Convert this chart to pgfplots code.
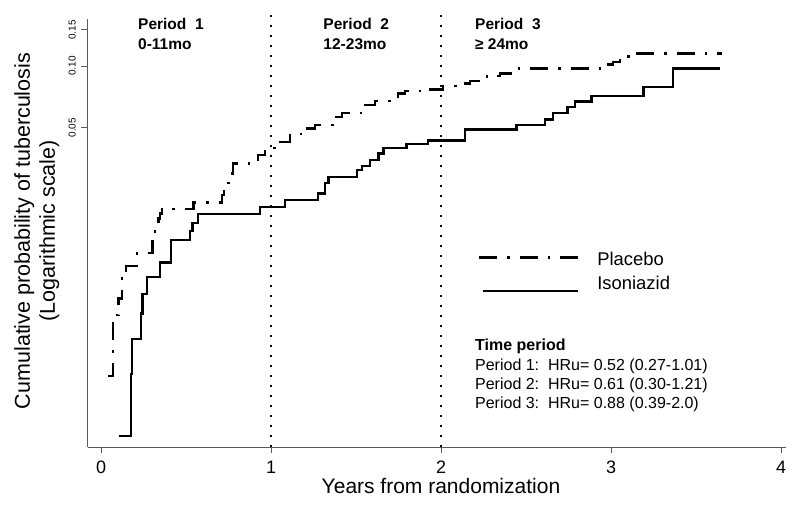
\documentclass[border=0pt]{standalone}
\usepackage{fontspec}
\setmainfont{Liberation Sans}
\usepackage{pgfplots}
\pgfplotsset{compat=1.18}
\definecolor{axisgray}{gray}{0.35}
\begin{document}
\begin{tikzpicture}
\begin{axis}[
  at={(0,0)}, anchor=south west,
  scale only axis, width=698bp, height=428bp,
  xmin=-0.0765, xmax=4.029,
  ymode=log, ymin=0.001383, ymax=0.1696,
  clip=false,
  axis x line*=bottom, axis y line*=left,
  axis line style={axisgray, line width=1bp, -},
  tick align=outside, major tick length=6.5bp,
  every tick/.style={axisgray, line width=1bp},
  /pgf/number format/assume math mode=true,
  xtick={0,1,2,3,4}, xticklabels={0,1,2,3,4},
  ytick={0.05,0.10,0.15}, yticklabels={0.05,0.10,0.15},
  yminorticks=false, xminorticks=false,
  xticklabel style={font=\fontsize{18bp}{20bp}\selectfont, inner sep=0pt, anchor=north},
  xticklabel shift=7bp,
  yticklabel style={font=\fontsize{10bp}{12bp}\selectfont, inner sep=0pt, rotate=90, anchor=south},
  yticklabel shift=5.7bp,
  legend style={draw=none, fill=none, at={(axis description cs:0.5587,0.4549)}, anchor=north west,
    inner sep=0pt, outer sep=0pt, row sep=9bp, font=\fontsize{18.4bp}{22bp}\selectfont,
    nodes={inner sep=0pt}},
  legend cell align=left,
]
\addplot[const plot, black, line width=2.4bp, dash pattern=on 18bp off 10bp on 2.5bp off 10bp,
  legend image code/.code={\draw[black, line width=2.4bp, dash pattern=on 18bp off 10bp on 2.5bp off 10bp] (0bp,2.4bp) -- (99bp,2.4bp); \path (117bp,0bp);}]
  table {
x y
0.043 0.00308
0.072 0.00609
0.102 0.00735
0.122 0.00921
0.147 0.01057
0.212 0.01223
0.302 0.01532
0.318 0.01675
0.337 0.01806
0.347 0.01911
0.357 0.02005
0.543 0.02157
0.710 0.02347
0.724 0.02483
0.749 0.0268
0.769 0.02995
0.778 0.03351
0.924 0.03679
0.965 0.0397
1.029 0.04272
1.112 0.04658
1.188 0.04966
1.259 0.05153
1.376 0.05657
1.416 0.0588
1.541 0.06453
1.612 0.0675
1.747 0.07358
1.788 0.07551
1.916 0.07697
2.012 0.07988
2.122 0.08233
2.171 0.0845
2.269 0.08937
2.347 0.09213
2.445 0.0972
2.965 0.1019
3.012 0.1046
3.053 0.1082
3.102 0.1153
3.653 0.1153
};
\addlegendentry{Placebo}
\addplot[const plot, black, line width=2.4bp,
  legend image code/.code={\draw[black, line width=2.4bp] (4bp,-7.7bp) -- (99bp,-7.7bp); \path (117bp,0bp);}]
  table {
x y
0.106 0.001565
0.176 0.00314
0.184 0.00464
0.234 0.00621
0.245 0.00772
0.269 0.00937
0.347 0.01097
0.410 0.01416
0.524 0.01566
0.539 0.01708
0.572 0.01896
0.935 0.0205
1.082 0.0222
1.278 0.0239
1.318 0.0268
1.337 0.0288
1.504 0.0311
1.534 0.0325
1.582 0.0348
1.631 0.0375
1.661 0.0397
1.798 0.0416
1.925 0.0433
2.141 0.0491
2.445 0.0515
2.612 0.0549
2.657 0.0588
2.743 0.0629
2.788 0.0670
2.886 0.0714
3.190 0.0792
3.363 0.0972
3.641 0.0972
};
\addlegendentry{Isoniazid}
% period boundaries
\draw[black, line width=2.5bp, dash pattern=on 2.5bp off 7.5bp] (axis cs:1,0.001383) -- (axis cs:1,0.19);
\draw[black, line width=2.5bp, dash pattern=on 2.5bp off 7.5bp] (axis cs:2,0.001383) -- (axis cs:2,0.19);
% period headers
\begin{scope}[every node/.style={anchor=base west, inner sep=0pt, font=\fontsize{15.5bp}{19bp}\selectfont\bfseries}]
\node at (axis description cs:0.0716,0.9743) {Period\ \ 1};
\node at (axis description cs:0.0716,0.9292) {0-11mo};
\node at (axis description cs:0.3371,0.9743) {Period\ \ 2};
\node at (axis description cs:0.3371,0.9292) {12-23mo};
\node at (axis description cs:0.5544,0.9743) {Period\ \ 3};
\node at (axis description cs:0.5544,0.9292) {≥ 24mo};
\end{scope}
% hazard ratios
\begin{scope}[every node/.style={anchor=base west, inner sep=0pt, font=\fontsize{16bp}{19bp}\selectfont}]
\node[font=\fontsize{16bp}{19bp}\selectfont\bfseries] at (axis description cs:0.5544,0.2250) {Time period};
\node at (axis description cs:0.5544,0.1799) {Period 1:\ \ HRu= 0.52 (0.27-1.01)};
\node at (axis description cs:0.5544,0.1355) {Period 2:\ \ HRu= 0.61 (0.30-1.21)};
\node at (axis description cs:0.5544,0.0904) {Period 3:\ \ HRu= 0.88 (0.39-2.0)};
\end{scope}
% axis titles
\node[anchor=base, inner sep=0pt, font=\fontsize{21bp}{24bp}\selectfont] at (axis description cs:0.5057,-0.1082) {Years from randomization};
\node[anchor=base, inner sep=0pt, rotate=90, font=\fontsize{21.5bp}{25bp}\selectfont] at (axis description cs:-0.0831,0.5047) {Cumulative probability of tuberculosis};
\node[anchor=base, inner sep=0pt, rotate=90, font=\fontsize{21.5bp}{25bp}\selectfont] at (axis description cs:-0.0473,0.5047) {(Logarithmic scale)};
\end{axis}
\pgfresetboundingbox
\useasboundingbox (-88bp,-58bp) rectangle (712bp,447bp);
\end{tikzpicture}
\end{document}
